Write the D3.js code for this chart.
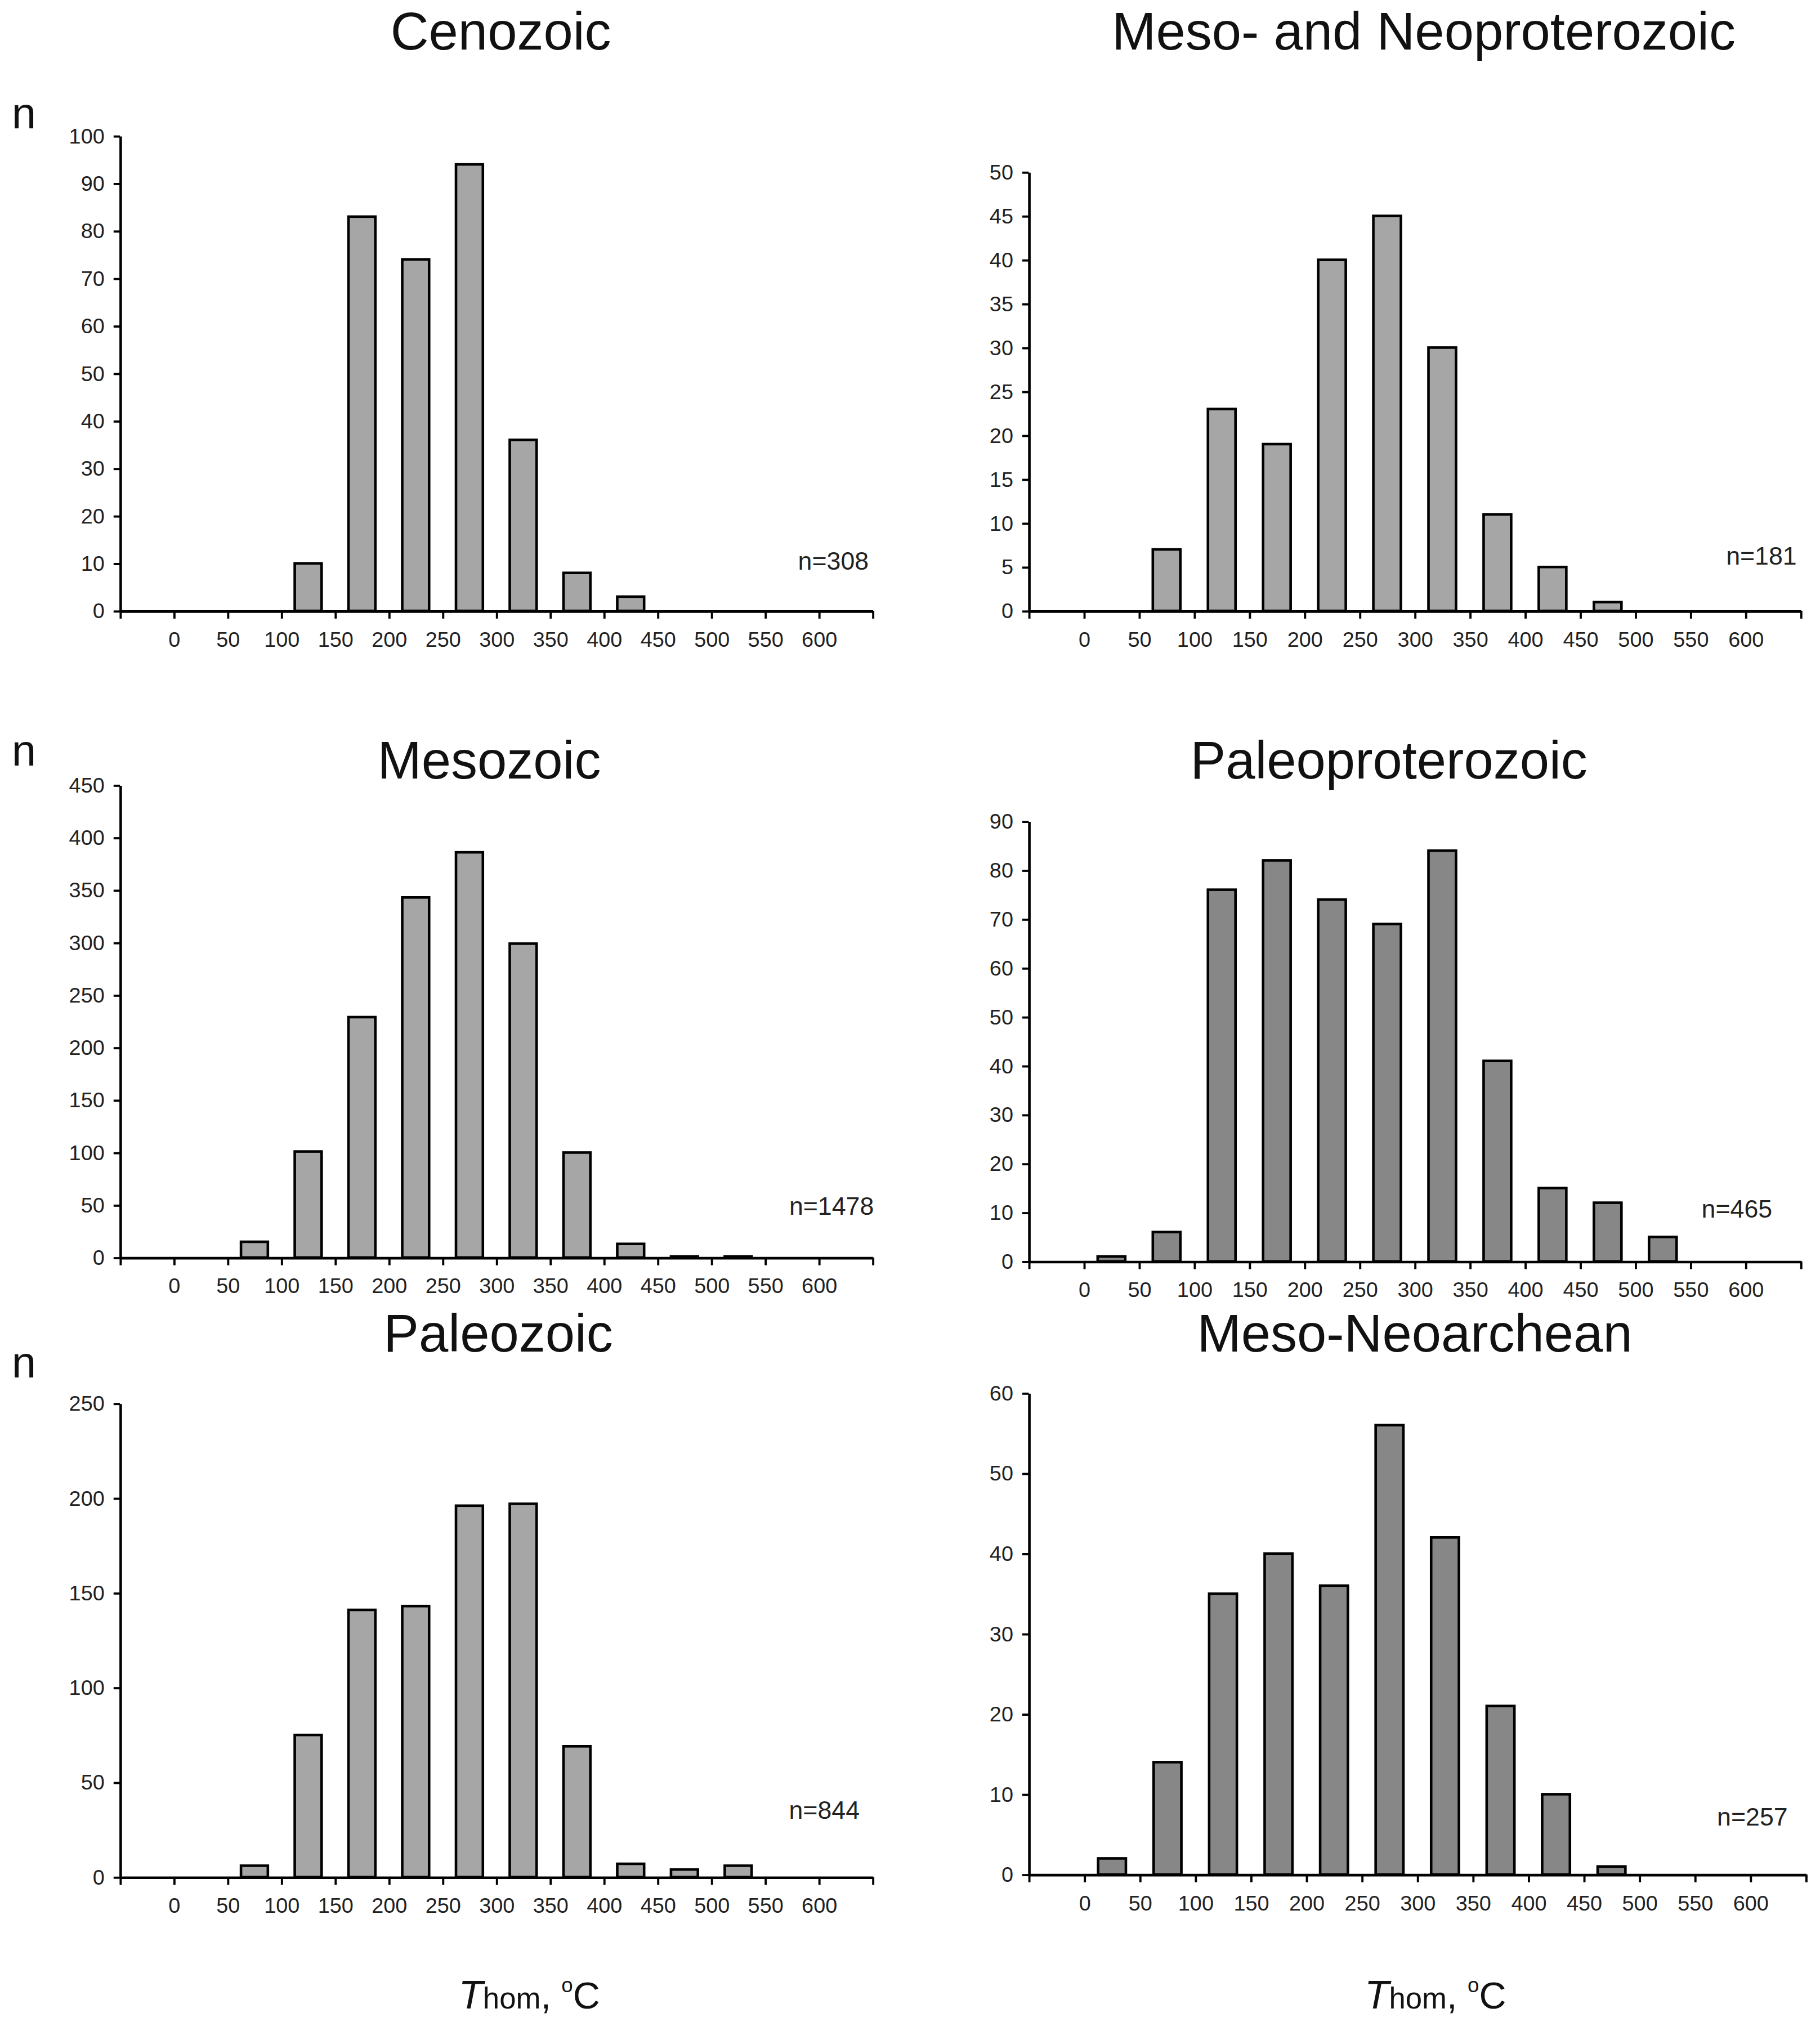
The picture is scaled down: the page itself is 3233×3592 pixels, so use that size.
<!DOCTYPE html>
<html>
<head>
<meta charset="utf-8">
<script src="https://cdn.jsdelivr.net/npm/d3@7"></script>
<style>
  html, body { margin: 0; padding: 0; background: #fff; }
  svg { display: block; font-family: "Liberation Sans", Arial, sans-serif; }
</style>
</head>
<body>
<script>
// bins are 50 degree classes, named by their lower edge
var binStarts = [-50, 0, 50, 100, 150, 200, 250, 300, 350, 400, 450, 500, 550, 600];
var xTickLabels = ['0', '50', '100', '150', '200', '250', '300', '350', '400', '450', '500', '550', '600'];

// counts per bin
var cenozoic         = [0, 0, 0, 10, 83, 74, 94, 36, 8, 3, 0, 0, 0, 0];
var mesoNeoprot      = [0, 0, 7, 23, 19, 40, 45, 30, 11, 5, 1, 0, 0, 0];
var mesozoic         = [0, 0, 15, 101, 229, 343, 386, 299, 100, 13, 1, 1, 0, 0];
var paleoproterozoic = [0, 1, 6, 76, 82, 74, 69, 84, 41, 15, 12, 5, 0, 0];
var paleozoic        = [0, 0, 6, 75, 141, 143, 196, 197, 69, 7, 4, 6, 0, 0];
var mesoNeoarchean   = [0, 2, 14, 35, 40, 36, 56, 42, 21, 10, 1, 0, 0, 0];

var titles = ['Cenozoic', 'Meso- and Neoproterozoic', 'Mesozoic', 'Paleoproterozoic', 'Paleozoic', 'Meso-Neoarchean'];
var totals = ['n=308', 'n=181', 'n=1478', 'n=465', 'n=844', 'n=257'];
var yMax   = [100, 50, 450, 90, 250, 60];
var yStep  = [10, 5, 50, 10, 50, 10];

var series = [cenozoic, mesoNeoprot, mesozoic, paleoproterozoic, paleozoic, mesoNeoarchean];

// ---------- layout (drawn in a 1410 x 1566 box, scaled up to the page) ----------
var W = 1410, H = 1566;
var lightFill = '#a6a6a6', darkFill = '#878787';

var frames = [
  {x0: 93,  x1: 676,  yTop: 105,  y0: 473,  tx: 388,  ty: 38,   nx: 673,  ny: 441,  fill: lightFill, nLabel: 99},
  {x0: 797, x1: 1395, yTop: 133,  y0: 473,  tx: 1103, ty: 38,   nx: 1392, ny: 437,  fill: lightFill},
  {x0: 93,  x1: 676,  yTop: 608,  y0: 974,  tx: 379,  ty: 603,  nx: 677,  ny: 941,  fill: lightFill, nLabel: 593},
  {x0: 797, x1: 1395, yTop: 636,  y0: 977,  tx: 1076, ty: 603,  nx: 1373, ny: 943,  fill: darkFill},
  {x0: 93,  x1: 676,  yTop: 1087, y0: 1454, tx: 386,  ty: 1047, nx: 666,  ny: 1409, fill: lightFill, nLabel: 1067, axisTitle: 410},
  {x0: 797, x1: 1399, yTop: 1079, y0: 1452, tx: 1096, ty: 1047, nx: 1385, ny: 1414, fill: darkFill, axisTitle: 1112}
];

var svg = d3.select('body').append('svg')
  .attr('width', 3233)
  .attr('height', 3592)
  .attr('viewBox', '0 0 ' + W + ' ' + H);

svg.append('rect').attr('width', W).attr('height', H).attr('fill', '#fff');

frames.forEach(function(f, i){
  var values = series[i];
  var g = svg.append('g');

  var x = d3.scaleLinear().domain([-50, 650]).range([f.x0, f.x1]);
  var y = d3.scaleLinear().domain([0, yMax[i]]).range([f.y0, f.yTop]);
  var binW = x(50) - x(0);
  var barW = binW * 0.5;

  // title
  g.append('text')
    .attr('x', f.tx)
    .attr('y', f.ty)
    .attr('text-anchor', 'middle')
    .attr('font-size', 41)
    .attr('fill', '#111')
    .text(titles[i]);

  // "n" label on the left column
  if (f.nLabel){
    g.append('text')
      .attr('x', 9)
      .attr('y', f.nLabel)
      .attr('font-size', 34)
      .attr('fill', '#111')
      .text('n');
  }

  // bars
  g.selectAll('rect.bar')
    .data(binStarts.map(function(b, k){ return {b: b, v: values[k]}; }).filter(function(d){ return d.v > 0; }))
    .enter().append('rect')
    .attr('class', 'bar')
    .attr('x', function(d){ return x(d.b + 25) - barW/2; })
    .attr('y', function(d){ return y(d.v); })
    .attr('width', barW)
    .attr('height', function(d){ return f.y0 - y(d.v); })
    .attr('fill', f.fill)
    .attr('stroke', '#000')
    .attr('stroke-width', 2);

  // y axis
  var yAxis = d3.axisLeft(y)
    .tickValues(d3.range(0, yMax[i] + yStep[i]/2, yStep[i]))
    .tickSize(5)
    .tickSizeOuter(0)
    .tickPadding(7);
  var ya = g.append('g').attr('transform', 'translate(' + f.x0 + ',0)').call(yAxis);

  // x axis, tick marks on bin edges, labels only 0..600
  var xAxis = d3.axisBottom(x)
    .tickValues(d3.range(-50, 651, 50))
    .tickFormat(function(d){ return xTickLabels.indexOf(String(d)) >= 0 ? String(d) : ''; })
    .tickSize(6)
    .tickSizeOuter(0)
    .tickPadding(10);
  var xa = g.append('g').attr('transform', 'translate(0,' + f.y0 + ')').call(xAxis);

  [ya, xa].forEach(function(a){
    a.select('.domain').attr('stroke', '#000').attr('stroke-width', 2);
    a.selectAll('.tick line').attr('stroke', '#000').attr('stroke-width', 1.7);
    a.selectAll('.tick text')
      .attr('font-family', '"Liberation Sans", Arial, sans-serif')
      .attr('font-size', 16.5)
      .attr('fill', '#222');
  });

  // sample size
  g.append('text')
    .attr('x', f.nx)
    .attr('y', f.ny)
    .attr('text-anchor', 'end')
    .attr('font-size', 19.5)
    .attr('fill', '#222')
    .text(totals[i]);

  // axis title under the bottom row
  if (f.axisTitle){
    var t = g.append('text')
      .attr('x', f.axisTitle)
      .attr('y', 1556)
      .attr('text-anchor', 'middle')
      .attr('fill', '#111');
    t.append('tspan').attr('font-size', 31).attr('font-style', 'italic').text('T');
    t.append('tspan').attr('font-size', 23).text('hom');
    t.append('tspan').attr('font-size', 29).text(', ');
    t.append('tspan').attr('font-size', 16).attr('dy', -13).text('o');
    t.append('tspan').attr('font-size', 29).attr('dy', 13).text('C');
  }
});
</script>
</body>
</html>
